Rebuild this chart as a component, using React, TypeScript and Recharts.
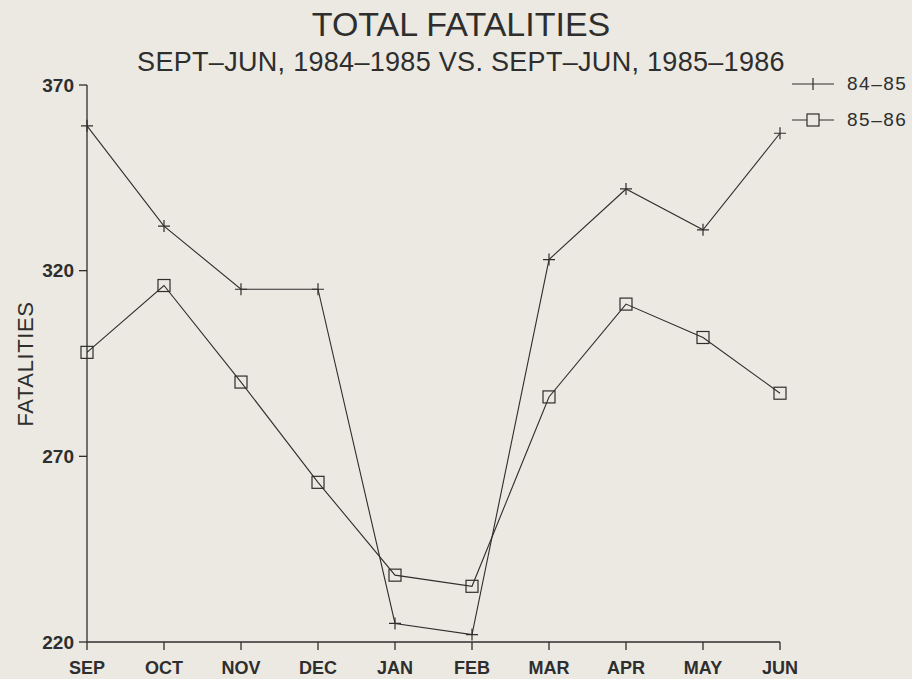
import React from 'react';
import { LineChart, Line, XAxis, YAxis } from 'recharts';

const months = ['SEP', 'OCT', 'NOV', 'DEC', 'JAN', 'FEB', 'MAR', 'APR', 'MAY', 'JUN'];
const fatalities8485 = [359, 332, 315, 315, 225, 222, 323, 342, 331, 357];
const fatalities8586 = [298, 316, 290, 263, 238, 235, 286, 311, 302, 287];
const yTicks = [220, 270, 320, 370];
const seriesLabels = ['84–85', '85–86'];

const data = months.map((m, i) => ({
  month: m,
  s8485: fatalities8485[i],
  s8586: fatalities8586[i],
}));

const PAPER = '#ebe9e1';
const INK = '#2e2e2e';
const FONT = '"Liberation Sans", Arial, sans-serif';

const PlusDot = (props: any) => {
  const { cx, cy } = props;
  if (cx == null || cy == null) return null;
  return (
    <path
      d={`M${cx - 6},${cy} H${cx + 6} M${cx},${cy - 6} V${cy + 6}`}
      stroke={INK}
      strokeWidth={1.2}
      fill="none"
    />
  );
};

const SquareDot = (props: any) => {
  const { cx, cy } = props;
  if (cx == null || cy == null) return null;
  return (
    <rect x={cx - 6} y={cy - 6} width={12} height={12} fill="none" stroke={INK} strokeWidth={1.2} />
  );
};

// legend drawn by hand, top right
const LegendBox = () => (
  <div style={{ position: 'absolute', left: 790, top: 66, fontFamily: FONT, fontSize: 19, color: INK }}>
    {seriesLabels.map((label, i) => (
      <div key={label} style={{ display: 'flex', alignItems: 'center', height: 36 }}>
        <svg width={57} height={20}>
          <line x1={2} y1={10} x2={44} y2={10} stroke={INK} strokeWidth={1.2} />
          {i === 0 ? (
            <path d="M23,4 V16" stroke={INK} strokeWidth={1.2} />
          ) : (
            <rect x={17} y={4} width={12} height={12} fill={PAPER} stroke={INK} strokeWidth={1.2} />
          )}
        </svg>
        <span style={{ letterSpacing: 1.5 }}>{label}</span>
      </div>
    ))}
  </div>
);

export default function App() {
  return (
    <div
      style={{
        position: 'absolute',
        left: 0,
        top: 0,
        width: 912,
        height: 679,
        background: PAPER,
        fontFamily: FONT,
        color: INK,
      }}
    >
      <div style={{ position: 'absolute', top: 7, left: 5, width: 912, textAlign: 'center', fontSize: 34, lineHeight: 1 }}>
        TOTAL FATALITIES
      </div>
      <div
        style={{
          position: 'absolute',
          top: 49,
          left: 5,
          width: 912,
          textAlign: 'center',
          fontSize: 27,
          lineHeight: 1,
          letterSpacing: 0.3,
        }}
      >
        SEPT–JUN, 1984–1985 VS. SEPT–JUN, 1985–1986
      </div>
      <div
        style={{
          position: 'absolute',
          left: 26,
          top: 364,
          transform: 'translate(-50%, -50%) rotate(-90deg)',
          fontSize: 22,
          letterSpacing: 0.6,
          whiteSpace: 'nowrap',
          lineHeight: 1,
        }}
      >
        FATALITIES
      </div>
      <LegendBox />
      <div style={{ position: 'absolute', left: 0, top: 0 }}>
        <LineChart
          width={912}
          height={679}
          data={data}
          margin={{ top: 85, right: 132, bottom: 0, left: 0 }}
        >
          <XAxis
            dataKey="month"
            padding={{ left: 0, right: 0 }}
            axisLine={{ stroke: INK, strokeWidth: 1.3 }}
            tickLine={{ stroke: INK, strokeWidth: 1.3 }}
            tickSize={8}
            tickMargin={11}
            tick={{ fill: INK, fontSize: 18, fontWeight: 'bold', fontFamily: FONT }}
            height={37}
            interval={0}
          />
          <YAxis
            domain={[220, 370]}
            ticks={yTicks}
            width={87}
            axisLine={{ stroke: INK, strokeWidth: 1.3 }}
            tickLine={{ stroke: INK, strokeWidth: 1.3 }}
            tickSize={8}
            tickMargin={5}
            tick={{ fill: INK, fontSize: 19, fontWeight: 'bold', fontFamily: FONT }}
          />
          <Line
            dataKey="s8485"
            name={seriesLabels[0]}
            stroke={INK}
            strokeWidth={1.1}
            dot={<PlusDot />}
            activeDot={false}
            isAnimationActive={false}
            type="linear"
          />
          <Line
            dataKey="s8586"
            name={seriesLabels[1]}
            stroke={INK}
            strokeWidth={1.1}
            dot={<SquareDot />}
            activeDot={false}
            isAnimationActive={false}
            type="linear"
          />
        </LineChart>
      </div>
    </div>
  );
}
